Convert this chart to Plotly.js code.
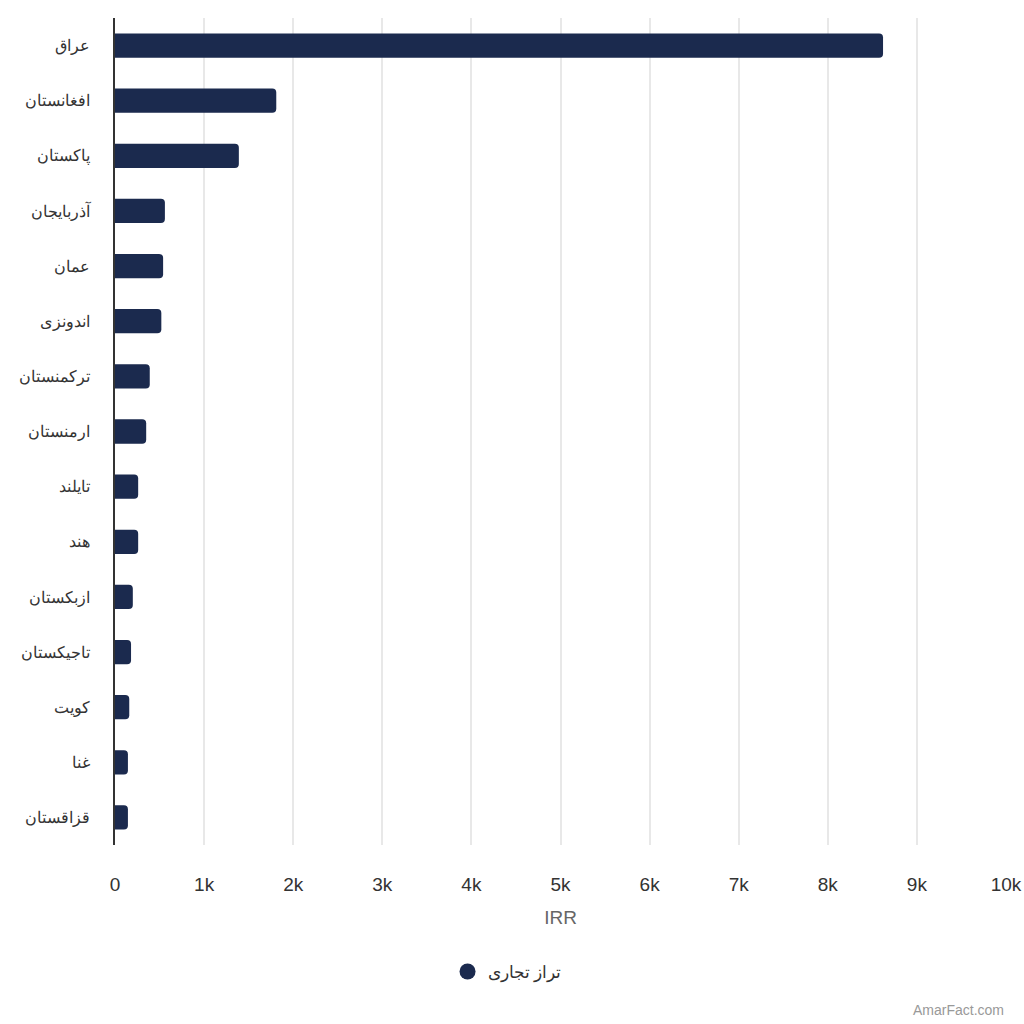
<!DOCTYPE html>
<html>
<head>
<meta charset="utf-8">
<script src="https://cdn.plot.ly/plotly-3.0.1.min.js"></script>
<style>html,body{margin:0;padding:0;background:#fff;}#chart{width:1024px;height:1024px;}</style>
</head>
<body>
<div id="chart"></div>
<script>
const countries = ["عراق","افغانستان","پاکستان","آذربایجان","عمان","اندونزی","ترکمنستان","ارمنستان","تایلند","هند","ازبکستان","تاجیکستان","کویت","غنا","قزاقستان"];
const values = [8620, 1810, 1390, 560, 540, 520, 390, 350, 260, 260, 200, 180, 160, 145, 145];
const seriesName = "تراز تجاری";
const xTickVals = [0,1000,2000,3000,4000,5000,6000,7000,8000,9000,10000];
const xTickText = ["0","1k","2k","3k","4k","5k","6k","7k","8k","9k","10k"];
const color = "#1b2a4e";
const font = "Liberation Sans, Arial, sans-serif";

const traces = [
  {
    type: "bar", orientation: "h", x: values, y: countries,
    marker: {color: color, cornerradius: 4},
    width: 0.44, showlegend: false, hoverinfo: "x+y"
  },
  {
    type: "scatter", mode: "markers", x: [null], y: [null],
    name: seriesName, marker: {color: color, size: 19, symbol: "circle"},
    showlegend: true
  }
];

const layout = {
  width: 1024, height: 1024,
  margin: {l: 115, r: 18, t: 18, b: 179},
  paper_bgcolor: "#fff", plot_bgcolor: "#fff",
  font: {family: font, color: "#333"},
  xaxis: {
    range: [0, 10000], tickvals: xTickVals, ticktext: xTickText,
    showgrid: true, gridcolor: "#e8e8e8", gridwidth: 1.5, zeroline: false,
    tickfont: {size: 19, color: "#333"}, ticks: "outside", ticklen: 22, tickcolor: "rgba(0,0,0,0)",
    title: {text: "IRR", font: {size: 19, color: "#666"}, standoff: 16},
    fixedrange: true
  },
  yaxis: {
    type: "category", categoryorder: "array", categoryarray: countries, autorange: "reversed",
    showline: true, linecolor: "#333", linewidth: 1.5, showgrid: false, zeroline: false,
    tickfont: {size: 16, color: "#333"}, ticks: "outside", ticklen: 20, tickcolor: "rgba(0,0,0,0)",
    fixedrange: true
  },
  legend: {
    orientation: "h", x: 0.44, xanchor: "center", y: -0.1535, yanchor: "middle",
    font: {size: 17, color: "#333"}
  },
  annotations: [{
    text: "AmarFact.com", xref: "paper", yref: "paper", x: 1.0, y: -0.2,
    xanchor: "right", yanchor: "middle", showarrow: false,
    font: {size: 14, color: "#999"}
  }]
};

Plotly.newPlot("chart", traces, layout, {displayModeBar: false, responsive: false});
</script>
</body>
</html>
